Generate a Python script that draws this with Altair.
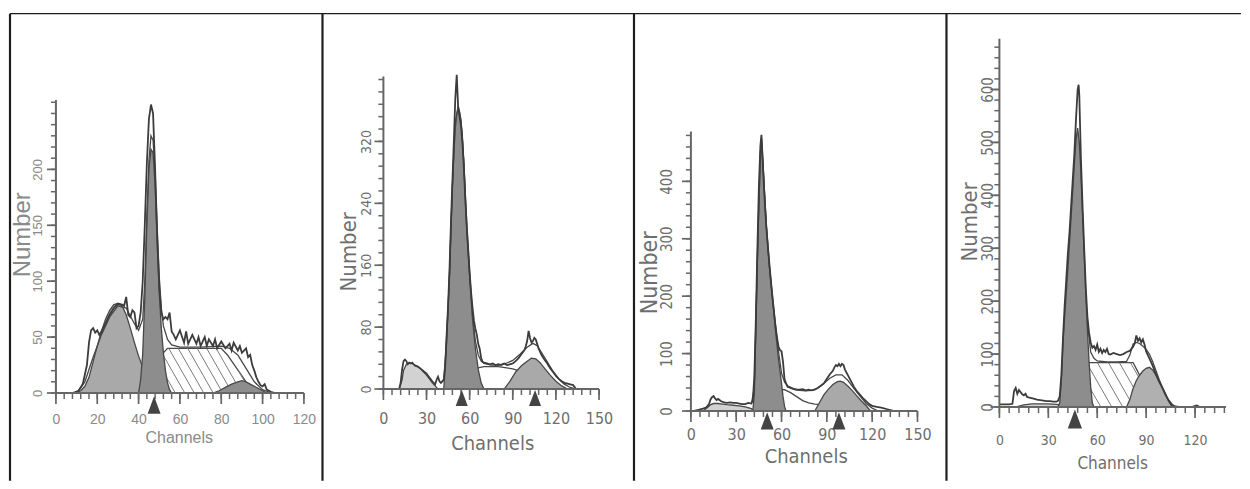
import altair as alt
import numpy as np
import pandas as pd

# ---------------- Panel 1 (channels 0-120) ----------------
p1_raw = [(8,0),(11,2),(13,8),(15,25),(16,45),(17,56),(18,58),(19,54),(20,56),(21,52),(22,55),(24,62),(26,70),(28,76),(30,80),(32,79),(33,78),(34,86),(35,70),(36,68),(37,74),(38,72),(39,58),(40,60),(41,72),(42,100),(43,150),(44,205),(45,245),(46,258),(47,250),(48,200),(49,140),(50,95),(51,72),(52,66),(53,68),(54,66),(55,72),(56,55),(57,52),(58,48),(60,56),(62,45),(63,55),(64,44),(66,52),(68,44),(69,50),(70,42),(72,50),(73,42),(74,48),(76,42),(77,48),(78,40),(80,46),(82,40),(84,44),(85,38),(86,45),(88,38),(89,42),(90,36),(92,40),(93,32),(94,34),(95,25),(96,20),(97,14),(98,10),(99,7),(100,6),(101,8),(102,3),(104,1),(106,0)]
p1_fit = [(10,0),(14,10),(18,32),(22,52),(26,68),(30,78),(34,76),(38,62),(40,56),(42,66),(43,100),(44,160),(45,208),(46,230),(47,226),(48,196),(49,148),(50,104),(51,76),(52,60),(54,48),(56,43),(60,41),(70,41),(80,42),(84,40),(88,34),(92,22),(96,10),(100,3),(104,0)]
p1_hump = [(9,0),(12,2),(14,6),(16,14),(18,28),(20,42),(22,55),(24,66),(26,74),(28,79),(30,80),(32,78),(34,70),(36,58),(38,45),(40,33),(42,23),(44,14),(46,7),(48,2),(50,0)]
p1_g1 = [(40,0),(41,12),(42,35),(43,85),(44,150),(45,200),(46,218),(47,215),(48,185),(49,135),(50,90),(51,58),(52,36),(53,20),(54,9),(55,3),(56,0)]
p1_s = [(44,0),(46,8),(48,18),(50,28),(52,36),(54,40),(60,40),(70,40),(80,40),(83,34),(86,26),(89,18),(92,10),(95,4),(98,1),(100,0)]
p1_g2 = [(76,0),(79,2),(82,5),(85,8),(88,10),(90,11),(92,10),(94,8),(96,6),(98,4),(100,2),(102,0)]
p1_marks = [47.5]
p1_xlabels = [0, 20, 40, 60, 80, 100, 120]
p1_ylabels = [0, 50, 100, 150, 200]

# ---------------- Panel 2 (channels 0-150) ----------------
p2_raw = [(11,0),(12,8),(13,25),(14,36),(15,38),(16,36),(17,32),(18,34),(19,33),(20,34),(22,30),(24,29),(26,26),(28,23),(30,20),(32,15),(34,10),(36,6),(37,12),(38,16),(39,10),(40,8),(41,10),(42,12),(43,30),(44,70),(45,108),(46,155),(47,215),(48,268),(49,320),(50,375),(51,406),(52,365),(53,352),(54,340),(55,318),(56,285),(57,245),(58,210),(59,180),(60,150),(61,125),(62,105),(63,88),(64,78),(65,70),(66,58),(67,52),(68,40),(69,35),(70,34),(72,33),(74,32),(76,33),(78,31),(80,32),(82,31),(84,33),(86,31),(88,32),(90,33),(92,36),(94,40),(96,45),(98,50),(99,55),(100,62),(101,75),(102,66),(103,60),(104,62),(105,66),(106,64),(107,58),(108,52),(110,44),(112,38),(114,33),(116,27),(118,22),(120,17),(122,13),(124,10),(126,8),(128,7),(130,6),(132,5),(134,0)]
p2_fit = [(40,8),(42,12),(44,62),(46,148),(48,262),(50,345),(52,366),(54,348),(56,292),(58,212),(60,150),(62,96),(64,62),(66,44),(68,36),(70,33),(75,31),(80,31),(85,33),(90,37),(95,45),(100,54),(104,59),(107,56),(110,47),(114,35),(118,23),(122,13),(126,6),(130,2),(134,0)]
p2_hump = [(11,0),(13,12),(14,24),(16,32),(18,34),(20,33),(22,31),(24,29),(26,26),(28,22),(30,18),(32,13),(34,8),(36,4),(38,0)]
p2_g1 = [(42,0),(43,30),(44,70),(45,105),(46,150),(47,210),(48,262),(49,305),(50,337),(51,355),(52,363),(53,358),(54,345),(55,325),(56,290),(57,245),(58,205),(60,145),(62,90),(64,52),(66,25),(68,8),(70,0)]
p2_s = [(50,0),(53,10),(56,17),(60,23),(65,27),(70,29),(80,29),(90,26),(95,23),(100,19),(105,14),(110,9),(115,5),(120,2),(124,0)]
p2_g2 = [(84,0),(88,10),(92,22),(96,30),(100,36),(103,40),(106,39),(109,34),(112,27),(116,18),(120,10),(124,4),(128,0)]
p2_marks = [54.5, 105.5]
p2_xlabels = [0, 30, 60, 90, 120, 150]
p2_ylabels = [0, 80, 160, 240, 320]

# ---------------- Panel 3 (channels 0-150) ----------------
p3_raw = [(2,0),(5,2),(8,4),(10,6),(12,12),(13,20),(14,24),(15,26),(16,22),(17,19),(18,21),(20,17),(22,15),(24,14),(26,15),(28,14),(30,14),(32,13),(34,12),(36,12),(38,14),(40,13),(41,18),(42,60),(43,160),(44,280),(45,390),(46,462),(46.7,481),(47,465),(48,410),(49,360),(50,318),(51,285),(52,255),(53,226),(54,198),(55,172),(56,148),(57,128),(58,112),(59,106),(60,104),(61,85),(62,55),(63,48),(64,42),(66,40),(68,38),(70,37),(72,37),(74,38),(76,36),(78,37),(80,36),(82,37),(84,40),(86,44),(88,48),(90,56),(92,64),(94,70),(95,76),(96,80),(97,78),(98,82),(99,78),(100,82),(101,80),(102,72),(104,62),(106,52),(108,42),(110,34),(112,28),(114,22),(116,17),(118,12),(120,9),(123,7),(126,6),(130,3),(134,0)]
p3_fit = [(40,12),(42,40),(44,265),(46,450),(46.7,470),(48,415),(50,322),(52,252),(54,200),(56,150),(58,104),(60,66),(62,50),(64,44),(68,39),(72,36),(76,35),(80,36),(84,40),(88,48),(92,57),(96,63),(100,63),(104,53),(108,39),(112,26),(116,13),(120,5),(124,0)]
p3_hump = [(8,0),(11,6),(13,11),(15,13),(18,13),(21,12),(24,11),(28,10),(32,9),(36,7),(40,4),(42,0)]
p3_g1 = [(41,0),(42,30),(43,140),(44,260),(45,360),(46,440),(46.7,476),(47,468),(48,420),(49,365),(50,320),(51,285),(52,250),(53,222),(54,195),(55,170),(56,140),(57,115),(58,90),(59,70),(60,48),(61,25),(62,8),(63,0)]
p3_s = [(42,0),(46,10),(50,22),(54,33),(58,38),(62,37),(66,32),(70,25),(74,18),(78,14),(82,12),(86,11),(90,10),(95,8),(100,6),(105,4),(110,2),(115,0)]
p3_g2 = [(82,0),(85,14),(88,28),(91,38),(94,46),(97,51),(99,52),(101,50),(104,43),(107,35),(110,26),(113,17),(116,9),(119,0)]
p3_marks = [50.5, 98]
p3_xlabels = [0, 30, 60, 90, 120, 150]
p3_ylabels = [0, 100, 200, 300, 400]

# ---------------- Panel 4 (channels 0-139) ----------------
p4_raw = [(0,5),(3,5),(6,5),(8,6),(9,30),(10,36),(11,25),(12,32),(13,28),(14,24),(15,22),(16,25),(17,19),(19,17),(21,16),(23,14),(25,13),(27,12),(29,11),(31,11),(33,10),(35,10),(36,12),(37,20),(38,60),(39,130),(40,190),(41,240),(42,290),(43,330),(44,380),(45,430),(46,480),(47,545),(48,600),(48.6,609),(49,590),(50,470),(51,380),(52,300),(53,225),(54,170),(55,140),(56,122),(57,112),(58,115),(59,108),(60,118),(61,104),(62,110),(63,102),(64,108),(65,104),(66,110),(67,100),(68,99),(70,102),(72,100),(74,98),(76,100),(78,104),(80,106),(82,114),(83,120),(84,135),(85,125),(86,130),(87,122),(88,128),(89,118),(90,105),(92,92),(94,78),(96,62),(98,48),(100,36),(102,22),(104,12),(106,4),(108,1),(110,0),(118,0),(121,3),(123,0),(136,0)]
p4_fit = [(54,160),(56,104),(58,92),(60,87),(66,85),(72,85),(78,86),(80,98),(82,119),(84,122),(86,120),(88,115),(90,109),(92,100),(94,86),(96,69),(98,52),(100,37),(102,24),(104,10),(106,2),(108,0)]
p4_hump = [(10,0),(15,4),(20,6),(25,6),(30,6),(35,5),(40,3),(44,0)]
p4_g1 = [(36,0),(37,8),(38,50),(39,120),(40,170),(41,215),(42,260),(43,310),(44,360),(45,410),(46,460),(47,505),(48,527),(49,500),(50,445),(51,365),(52,290),(53,215),(54,145),(55,85),(56,38),(57,8),(58,0)]
p4_s = [(42,0),(44,20),(46,42),(48,65),(50,78),(52,83),(54,84),(66,84),(82,84),(84,72),(86,60),(88,47),(90,36),(92,25),(94,16),(96,9),(98,4),(100,1),(102,0)]
p4_g2 = [(78,0),(80,14),(82,35),(84,50),(86,60),(88,68),(90,73),(92,75),(94,70),(96,60),(98,48),(100,36),(102,24),(104,10),(106,0)]
p4_marks = [46.3]
p4_xlabels = [0, 30, 60, 90, 120]
p4_ylabels = [0, 100, 200, 300, 400, 500, 600]

# ---------------- styling ----------------
AX = "#666666"
EDGE = "#484848"
RAW = "#3c3c3c"
G1C = "#8d8d8d"
FRAME = "#1e1e1e"
TRI = "#444444"
HATCH = "#7a7a7a"
CONDENSED = "'DejaVu Sans Condensed', 'DejaVu Sans', sans-serif"
PLAIN = "'Liberation Sans', Arial, sans-serif"
TRI_PATH = "M-0.75,1L0.75,1L0,-1Z"

panels = [
    dict(raw=p1_raw, fit=p1_fit, hump=p1_hump, g1=p1_g1, s=p1_s, g2=p1_g2, marks=p1_marks,
         xl=p1_xlabels, yl=p1_ylabels, a=2.07, b=1.12, W=308, H=362, xend=120, xminor=4,
         ytop=262, yminor=10, hatch=True, humpc="#a9a9a9", g2c="#8d8d8d", font=PLAIN,
         lab_size=14, ttl_size=16, ylab_size=13, ytl_size=24, lab_color="#8a8a8a",
         xpad=27, ypad=11, xtx=123, xty=45, ytx=-33, yty=203, tri_off=12, tri_size=300,
         frames=[(-46, 1187, -18, -18, 1.5), (-46, -46, -18, 450, 2.2)]),
    dict(raw=p2_raw, fit=p2_fit, hump=p2_hump, g1=p2_g1, s=p2_s, g2=p2_g2, marks=p2_marks,
         xl=p2_xlabels, yl=p2_ylabels, a=1.44, b=0.775, W=288, H=358, xend=150, xminor=6,
         ytop=404, yminor=16, hatch=False, humpc="#d2d2d2", g2c="#a9a9a9", font=CONDENSED,
         lab_size=16, ttl_size=20, ylab_size=14, ytl_size=22, lab_color="#6e6e6e",
         xpad=30, ypad=10, xtx=109, xty=55, ytx=-35, yty=220, tri_off=9, tri_size=260,
         frames=[(-61, -61, -18, 450, 2.2)]),
    dict(raw=p3_raw, fit=p3_fit, hump=p3_hump, g1=p3_g1, s=p3_s, g2=p3_g2, marks=p3_marks,
         xl=p3_xlabels, yl=p3_ylabels, a=1.513, b=0.575, W=289, H=380, xend=150, xminor=6,
         ytop=487, yminor=20, hatch=False, humpc="#d2d2d2", g2c="#a9a9a9", font=CONDENSED,
         lab_size=16, ttl_size=20, ylab_size=15, ytl_size=23, lab_color="#6e6e6e",
         xpad=24, ypad=16, xtx=115, xty=46, ytx=-41, yty=241, tri_off=10, tri_size=300,
         frames=[(-57, -57, -18, 450, 2.2)]),
    dict(raw=p4_raw, fit=p4_fit, hump=p4_hump, g1=p4_g1, s=p4_s, g2=p4_g2, marks=p4_marks,
         xl=p4_xlabels, yl=p4_ylabels, a=1.633, b=0.53, W=240, H=376, xend=139, xminor=6,
         ytop=696, yminor=20, hatch=True, humpc="#d2d2d2", g2c="#b0b0b0", font=CONDENSED,
         lab_size=14, ttl_size=17, ylab_size=15, ytl_size=22, lab_color="#6e6e6e",
         xpad=34, ypad=4, xtx=113, xty=57, ytx=-30, yty=190, tri_off=12, tri_size=360,
         frames=[(-53, -53, -18, 450, 2.2)]),
]


def to_df(pairs):
    return pd.DataFrame(pairs, columns=["c", "v"])


def hatch_segments(pairs, a, b, spacing_px=9.0, k=1.75):
    ch = np.array([p[0] for p in pairs], dtype=float)
    val = np.array([p[1] for p in pairs], dtype=float)
    m = k * a / b
    cs = np.linspace(ch.min(), ch.max(), 1500)
    top = np.interp(cs, ch, val)
    rows = []
    b0 = ch.min()
    while b0 <= ch.max() + val.max() / m:
        line = m * (b0 - cs)
        ok = (line >= 0) & (line <= top)
        if ok.sum() > 3:
            idx = np.where(ok)[0]
            c1, c2 = cs[idx[0]], cs[idx[-1]]
            rows.append(dict(c1=c1, v1=m * (b0 - c1), c2=c2, v2=m * (b0 - c2)))
        b0 += spacing_px / a
    return pd.DataFrame(rows)


def build(p):
    a, b, W, H = p["a"], p["b"], p["W"], p["H"]
    xs = alt.Scale(domain=[0, W / a], nice=False, zero=False)
    ys = alt.Scale(domain=[0, H / b], nice=False, zero=False)

    xaxis = alt.Axis(values=p["xl"], ticks=False, domain=False, grid=False, format="d",
                     labelFont=p["font"], labelFontSize=p["lab_size"], labelColor=p["lab_color"],
                     labelPadding=p["xpad"], labelBaseline="middle", labelFlush=False,
                     labelOverlap=False, title="Channels", titleFont=p["font"],
                     titleFontSize=p["ttl_size"], titleFontWeight="normal",
                     titleColor=p["lab_color"], titleX=p["xtx"], titleY=p["xty"],
                     titleAlign="center", titleBaseline="middle")
    yaxis = alt.Axis(values=p["yl"], ticks=False, domain=False, grid=False, format="d",
                     labelFont=p["font"], labelFontSize=p["ylab_size"], labelColor=p["lab_color"],
                     labelAngle=270, labelAlign="center", labelBaseline="bottom",
                     labelPadding=p["ypad"], labelFlush=False, labelOverlap=False,
                     title="Number", titleFont=p["font"], titleFontSize=p["ytl_size"],
                     titleFontWeight="normal", titleColor=p["lab_color"], titleAngle=270,
                     titleX=p["ytx"], titleY=p["yty"], titleAlign="center", titleBaseline="middle")

    def X(f):
        return alt.X(f, type="quantitative", scale=xs, axis=xaxis)

    def Y(f):
        return alt.Y(f, type="quantitative", scale=ys, axis=yaxis)

    one = pd.DataFrame({"k": [0]})
    layers = []
    for (x1, x2, y1, y2, sw) in p["frames"]:
        layers.append(alt.Chart(one).mark_rule(color=FRAME, strokeWidth=sw).encode(
            x=alt.value(x1), x2=alt.value(x2), y=alt.value(y1), y2=alt.value(y2)))

    layers.append(alt.Chart(to_df(p["hump"])).mark_area(
        fill=p["humpc"], stroke=EDGE, strokeWidth=1.3).encode(x=X("c"), y=Y("v")))
    layers.append(alt.Chart(to_df(p["s"])).mark_area(
        fill="white", stroke=EDGE, strokeWidth=1.3).encode(x=X("c"), y=Y("v")))
    if p["hatch"]:
        hd = hatch_segments(p["s"], a, b, spacing_px=9.5 if a > 2 else 11.0)
        layers.append(alt.Chart(hd).mark_rule(color=HATCH, strokeWidth=1).encode(
            x=X("c1"), y=Y("v1"), x2="c2", y2="v2"))
    layers.append(alt.Chart(to_df(p["g1"])).mark_area(
        fill=G1C, stroke=EDGE, strokeWidth=1.3).encode(x=X("c"), y=Y("v")))
    layers.append(alt.Chart(to_df(p["g2"])).mark_area(
        fill=p["g2c"], stroke=EDGE, strokeWidth=1.3).encode(x=X("c"), y=Y("v")))
    layers.append(alt.Chart(to_df(p["fit"])).mark_line(
        color=EDGE, strokeWidth=1.3).encode(x=X("c"), y=Y("v")))
    layers.append(alt.Chart(to_df(p["raw"])).mark_line(
        color=RAW, strokeWidth=1.8).encode(x=X("c"), y=Y("v")))

    # ticks (minor and major) drawn as rules
    xminor = [float(t) for t in np.arange(0, p["xend"] + 0.01, p["xminor"])]
    layers.append(alt.Chart(pd.DataFrame({"c": xminor})).mark_rule(color=AX, strokeWidth=1.5).encode(
        x=X("c"), y=alt.value(H), y2=alt.value(H + 6)))
    layers.append(alt.Chart(pd.DataFrame({"c": p["xl"]})).mark_rule(color=AX, strokeWidth=1.7).encode(
        x=X("c"), y=alt.value(H), y2=alt.value(H + 11)))
    yminor = [float(t) for t in np.arange(0, p["ytop"], p["yminor"])]
    layers.append(alt.Chart(pd.DataFrame({"v": yminor})).mark_rule(color=AX, strokeWidth=1.5).encode(
        y=Y("v"), x=alt.value(0), x2=alt.value(-5)))
    layers.append(alt.Chart(pd.DataFrame({"v": p["yl"]})).mark_rule(color=AX, strokeWidth=1.7).encode(
        y=Y("v"), x=alt.value(0), x2=alt.value(-9)))

    axis_df = pd.DataFrame({"x0": [0], "x1": [p["xend"]], "y0": [0], "y1": [p["ytop"]]})
    layers.append(alt.Chart(axis_df).mark_rule(color=AX, strokeWidth=2).encode(
        x=X("x0"), x2="x1", y=Y("y0")))
    layers.append(alt.Chart(axis_df).mark_rule(color=AX, strokeWidth=2).encode(
        x=X("x0"), y=Y("y0"), y2="y1"))

    tri_df = pd.DataFrame({"c": p["marks"], "y0": [0] * len(p["marks"])})
    layers.append(alt.Chart(tri_df).mark_point(
        shape=TRI_PATH, filled=True, size=p["tri_size"], color=TRI, opacity=1,
        yOffset=p["tri_off"]).encode(x=X("c"), y=Y("y0")))

    return alt.layer(*layers).properties(width=W, height=H)


chart = alt.hconcat(*[build(p) for p in panels], spacing=20, bounds="flush").properties(
    padding={"left": 0, "top": 3.25, "right": 0, "bottom": 0},
    background="white",
).configure_view(strokeWidth=0)

chart.save("out.html", embed_options={"renderer": "svg", "actions": False})
